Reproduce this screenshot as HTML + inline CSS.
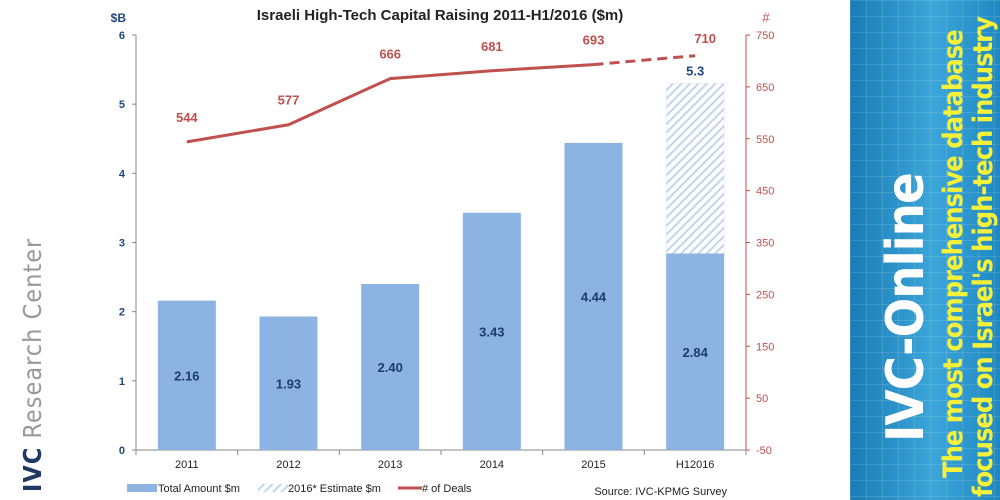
<!DOCTYPE html>
<html><head><meta charset="utf-8"><style>
body{margin:0;width:1000px;height:500px;overflow:hidden;background:#fff;font-family:"Liberation Sans",sans-serif;position:relative}
#panel{position:absolute;left:850px;top:0;width:150px;height:500px;
background-image:linear-gradient(rgba(255,255,255,.12) 1px,transparent 1px),linear-gradient(90deg,rgba(255,255,255,.12) 1px,transparent 1px),linear-gradient(90deg,#1a7cb6,#3ba6da 55%,#1e88c2);background-size:16px 16px,16px 16px,100% 100%}
.rot{position:absolute;transform:rotate(-90deg);transform-origin:left top;white-space:nowrap;font-family:"DejaVu Sans Condensed","DejaVu Sans",sans-serif;font-weight:bold}
</style></head><body>
<div id="left-logo" class="rot" style="left:18px;top:492px;font-size:25px;font-weight:normal;letter-spacing:1px;color:#999"><b style="color:#1f3864">IVC</b> Research Center</div>
<div id="panel">
<div class="rot" style="left:26px;top:442px;font-size:52px;color:#fff;letter-spacing:-1px">IVC-Online</div>
<div class="rot" style="left:88px;top:478px;font-size:27px;color:#f5f03a;letter-spacing:-1px">The most comprehensive database</div>
<div class="rot" style="left:118px;top:497px;font-size:27px;color:#f5f03a;letter-spacing:-1px">focused on Israel's high-tech industry</div>
</div>
<svg id="chart" width="850" height="500" style="position:absolute;left:0;top:0">
<defs><pattern id="hatch" width="6" height="6" patternUnits="userSpaceOnUse" patternTransform="rotate(45)"><rect width="6" height="6" fill="#fff"/><rect width="2" height="6" fill="#c3d5ea"/></pattern></defs>
<text x="440" y="20" text-anchor="middle" font-size="15" font-weight="bold" fill="#222">Israeli High-Tech Capital Raising 2011-H1/2016 ($m)</text>
<g id="g"></g>
</svg>
<script>
const categories=["2011","2012","2013","2014","2015","H12016"];
const amounts=[2.16,1.93,2.40,3.43,4.44,2.84];
const estimate=[null,null,null,null,null,5.3];
const deals=[544,577,666,681,693,710];
const leftTicks=[0,1,2,3,4,5,6];
const rightTicks=[-50,50,150,250,350,450,550,650,750];
const X0=136,X1=746,Y0=450,Y1=35;
const step=(X1-X0)/categories.length;
const xc=i=>X0+step*(i+0.5);
const yL=v=>Y0-(v-0)/(6-0)*(Y0-Y1);
const yR=v=>Y0-(v+50)/800*(Y0-Y1);
const g=document.getElementById('g');const NS="http://www.w3.org/2000/svg";
function mk(t,a,txt){const e=document.createElementNS(NS,t);for(const k in a)e.setAttribute(k,a[k]);if(txt!=null)e.textContent=txt;g.appendChild(e);return e;}
let e;
e=mk('line',{x1:X0,y1:Y1,x2:X0,y2:Y0,stroke:'#888'});
e=mk('line',{x1:X1,y1:Y1,x2:X1,y2:Y0,stroke:'#c0504d'});
e=mk('line',{x1:X0,y1:Y0,x2:X1,y2:Y0,stroke:'#888'});
leftTicks.forEach(v=>{mk('line',{x1:X0-4,y1:yL(v),x2:X0,y2:yL(v),stroke:'#888'});
e=mk('text',{x:X0-11,y:yL(v)+4,'text-anchor':'end','font-size':11,'font-weight':'bold',fill:'#1f497d'},v);});
rightTicks.forEach(v=>{mk('line',{x1:X1,y1:yR(v),x2:X1+4,y2:yR(v),stroke:'#c0504d'});
e=mk('text',{x:X1+10,y:yR(v)+4,'font-size':11,fill:'#c0504d'},v);});
e=mk('text',{x:126,y:22,'text-anchor':'end','font-size':12,'font-weight':'bold',fill:'#1f497d'},'$B');
e=mk('text',{x:766,y:22,'text-anchor':'middle','font-size':13,fill:'#c0504d'},'#');
for(let i=0;i<=categories.length;i++)mk('line',{x1:X0+step*i,y1:Y0,x2:X0+step*i,y2:Y0+5,stroke:'#888'});
const bw=58;
categories.forEach((c,i)=>{
 e=mk('text',{x:xc(i),y:468,'text-anchor':'middle','font-size':11,fill:'#222'},c);
 if(estimate[i]!=null){e=mk('rect',{x:xc(i)-bw/2,y:yL(estimate[i]),width:bw,height:yL(amounts[i])-yL(estimate[i]),fill:'url(#hatch)',stroke:'#dde6f2','stroke-width':0.5});
  e=mk('text',{x:xc(i),y:yL(estimate[i])-8,'text-anchor':'middle','font-size':13,'font-weight':'bold',fill:'#1f497d'},estimate[i].toFixed(1));}
 e=mk('rect',{x:xc(i)-bw/2,y:yL(amounts[i]),width:bw,height:Y0-yL(amounts[i]),fill:'#8db3e2'});
 e=mk('text',{x:xc(i),y:(yL(amounts[i])+Y0)/2+5,'text-anchor':'middle','font-size':13,'font-weight':'bold',fill:'#1f3c6e'},amounts[i].toFixed(2));
});
const n=deals.length;
let pts=deals.slice(0,n-1).map((d,i)=>xc(i)+','+yR(d)).join(' ');
e=mk('polyline',{points:pts,fill:'none',stroke:'#c0504d','stroke-width':3});
e=mk('line',{x1:xc(n-2),y1:yR(deals[n-2]),x2:xc(n-1),y2:yR(deals[n-1]),stroke:'#c0504d','stroke-width':3,'stroke-dasharray':'10,6'});
deals.forEach((d,i)=>{e=mk('text',{x:xc(i)+(i==n-1?10:0),y:yR(d)-(i==n-1?13:20),'text-anchor':'middle','font-size':13,'font-weight':'bold',fill:'#c0504d'},d);});
e=mk('rect',{x:127,y:484,width:30,height:8,fill:'#8db3e2'});
e=mk('text',{x:158,y:492,'font-size':11,fill:'#222'},'Total Amount $m');
e=mk('rect',{x:258,y:484,width:30,height:8,fill:'url(#hatch)'});
e=mk('text',{x:288,y:492,'font-size':11,fill:'#222'},'2016* Estimate $m');
e=mk('line',{x1:398,y1:488,x2:422,y2:488,stroke:'#c0504d','stroke-width':3});
e=mk('text',{x:422,y:492,'font-size':11,fill:'#222'},'# of Deals');
e=mk('text',{x:727,y:495,'text-anchor':'end','font-size':11,fill:'#222'},'Source: IVC-KPMG Survey');
</script>
</body></html>
